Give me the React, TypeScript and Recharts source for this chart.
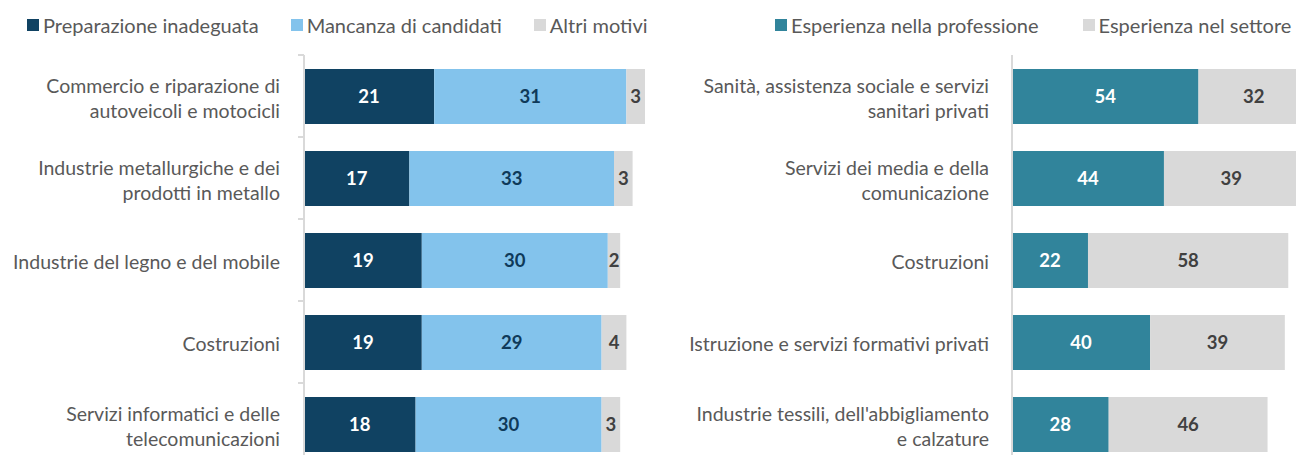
import React from "react";
import { BarChart, Bar, XAxis, YAxis, Legend, LabelList } from "recharts";

// categorie e valori (%)
const LEFT_CATEGORIES = [
  "Commercio e riparazione di\nautoveicoli e motocicli",
  "Industrie metallurgiche e dei\nprodotti in metallo",
  "Industrie del legno e del mobile",
  "Costruzioni",
  "Servizi informatici e delle\ntelecomunicazioni",
];
const LEFT_SERIES = ["Preparazione inadeguata", "Mancanza di candidati", "Altri motivi"];
const PREPARAZIONE = [21, 17, 19, 19, 18];
const MANCANZA = [31, 33, 30, 29, 30];
const ALTRI = [3, 3, 2, 4, 3];

const RIGHT_CATEGORIES = [
  "Sanità, assistenza sociale e servizi\nsanitari privati",
  "Servizi dei media e della\ncomunicazione",
  "Costruzioni",
  "Istruzione e servizi formativi privati",
  "Industrie tessili, dell'abbigliamento\ne calzature",
];
const RIGHT_SERIES = ["Esperienza nella professione", "Esperienza nel settore"];
const PROFESSIONE = [54, 44, 22, 40, 28];
const SETTORE = [32, 39, 58, 39, 46];

const leftData = LEFT_CATEGORIES.map((name, i) => ({
  name, prep: PREPARAZIONE[i], manc: MANCANZA[i], altri: ALTRI[i],
}));
const rightData = RIGHT_CATEGORIES.map((name, i) => ({
  name, prof: PROFESSIONE[i], sett: SETTORE[i],
}));

const FONT = "Lato, 'Liberation Sans', sans-serif";
const TEXT = "#595959";
const AXIS = "#D9D9D9";
const HALF_BAND = 41;

function CategoryTick(props: any) {
  const { x, y, payload, boundary, margin } = props;
  const lines = String(payload.value).split("\n");
  const offsets = lines.length === 1 ? [1] : [-11, 14];
  const axisX = x + margin;
  return (
    <g>
      <text x={x} y={y} textAnchor="end" fill={TEXT} fontSize={19.5} fontFamily={FONT}>
        {lines.map((l, i) => (
          <tspan key={i} x={x} y={y + offsets[i]} dominantBaseline="central">{l}</tspan>
        ))}
      </text>
      {boundary && (
        <line x1={axisX - 6} x2={axisX} y1={y - HALF_BAND} y2={y - HALF_BAND} stroke={AXIS} strokeWidth={2} />
      )}
    </g>
  );
}

function LegendContent({ payload, gap, order }: any) {
  const items = order.map((name: string) => payload.find((p: any) => p.value === name)).filter(Boolean);
  return (
    <div style={{ display: "flex", gap, fontFamily: FONT, fontSize: 20, color: TEXT, whiteSpace: "nowrap" }}>
      {items.map((p: any) => (
        <div key={p.value} style={{ display: "flex", alignItems: "center" }}>
          <span style={{ width: 12, height: 12, background: p.color, marginRight: 4, display: "inline-block" }} />
          <span>{p.value}</span>
        </div>
      ))}
    </div>
  );
}

const labelStyle = { fontSize: 18.5, fontWeight: "bold" as const, fontFamily: FONT };

export default function App() {
  return (
    <div style={{ position: "fixed", left: 0, top: 0, width: 1296, height: 455, overflow: "hidden", background: "#fff", fontFamily: FONT }}>
      <div style={{ position: "absolute", left: 0, top: 0 }}>
        <BarChart width={660} height={470} data={leftData} layout="vertical" margin={{ top: 55, right: 15, bottom: 5, left: 0 }}>
          <XAxis type="number" hide domain={[0, 55]} allowDataOverflow />
          <YAxis
            type="category"
            dataKey="name"
            width={304}
            interval={0}
            axisLine={{ stroke: AXIS, strokeWidth: 2 }}
            tickLine={false}
            tickSize={0}
            tickMargin={24}
            tick={(p: any) => <CategoryTick {...p} boundary margin={24} />}
          />
          <Legend
            verticalAlign="middle"
            align="center"
            wrapperStyle={{ top: 13, left: 27 }}
            content={(p: any) => <LegendContent {...p} gap={32} order={LEFT_SERIES} />}
          />
          <Bar dataKey="prep" name={LEFT_SERIES[0]} stackId="s" fill="#104262" barSize={55} isAnimationActive={false}>
            <LabelList dataKey="prep" position="center" fill="#FFFFFF" {...labelStyle} />
          </Bar>
          <Bar dataKey="manc" name={LEFT_SERIES[1]} stackId="s" fill="#83C3EC" barSize={55} isAnimationActive={false}>
            <LabelList dataKey="manc" position="center" fill="#0F3A5A" {...labelStyle} />
          </Bar>
          <Bar dataKey="altri" name={LEFT_SERIES[2]} stackId="s" fill="#D9D9D9" barSize={55} isAnimationActive={false}>
            <LabelList dataKey="altri" position="center" fill="#404040" {...labelStyle} />
          </Bar>
        </BarChart>
      </div>
      <div style={{ position: "absolute", left: 660, top: 0 }}>
        <BarChart width={649} height={470} data={rightData} layout="vertical" margin={{ top: 55, right: 0, bottom: 5, left: 0 }}>
          <XAxis type="number" hide domain={[0, 86]} allowDataOverflow />
          <YAxis
            type="category"
            dataKey="name"
            width={352}
            interval={0}
            axisLine={{ stroke: AXIS, strokeWidth: 2 }}
            tickLine={false}
            tickSize={0}
            tickMargin={23}
            tick={(p: any) => <CategoryTick {...p} margin={23} />}
          />
          <Legend
            verticalAlign="middle"
            align="center"
            wrapperStyle={{ top: 13, left: 115 }}
            content={(p: any) => <LegendContent {...p} gap={44} order={RIGHT_SERIES} />}
          />
          <Bar dataKey="prof" name={RIGHT_SERIES[0]} stackId="s" fill="#31849B" barSize={55} isAnimationActive={false}>
            <LabelList dataKey="prof" position="center" fill="#FFFFFF" {...labelStyle} />
          </Bar>
          <Bar dataKey="sett" name={RIGHT_SERIES[1]} stackId="s" fill="#D9D9D9" barSize={55} isAnimationActive={false}>
            <LabelList dataKey="sett" position="center" fill="#404040" {...labelStyle} />
          </Bar>
        </BarChart>
      </div>
    </div>
  );
}
